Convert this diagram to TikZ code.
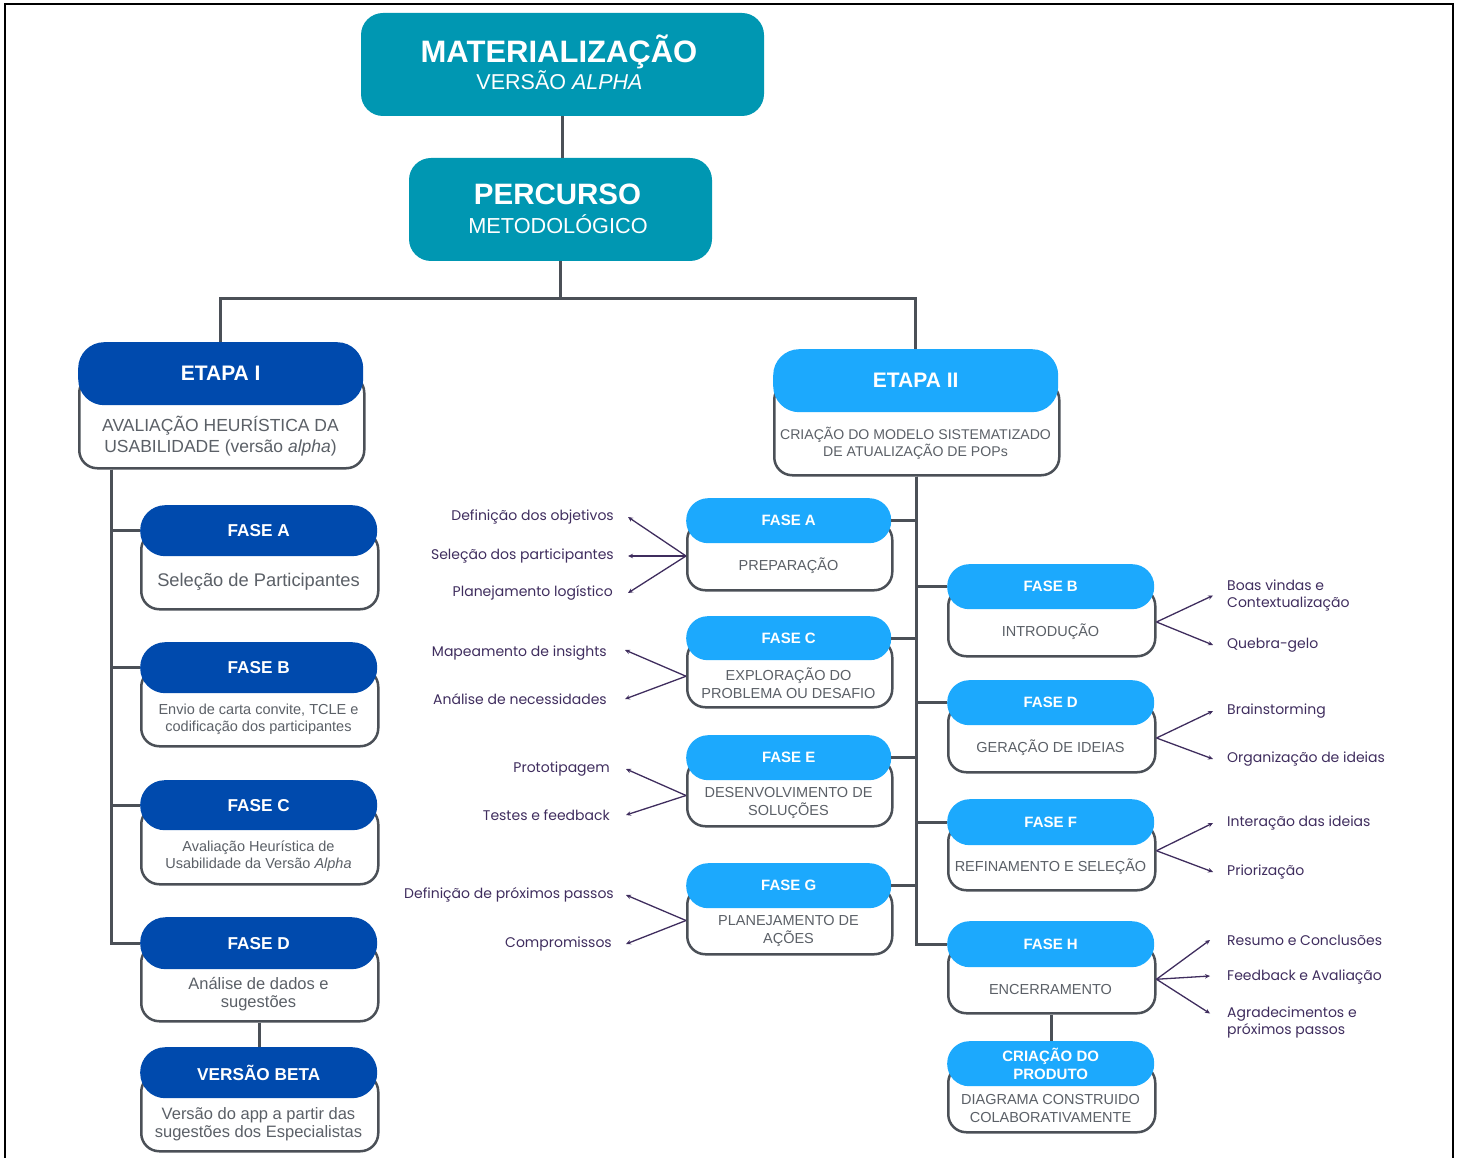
\documentclass[tikz,border=0pt]{standalone}
\usepackage{fontspec}
\setmainfont{Liberation Sans}
\newfontfamily\lblfont{Poppins}
\usetikzlibrary{arrows.meta}
\definecolor{teal1}{HTML}{0097B2}
\definecolor{navy1}{HTML}{004AAD}
\definecolor{sky1}{HTML}{1CA9FD}
\definecolor{lineg}{HTML}{4B5057}
\definecolor{txtg}{HTML}{5B6067}
\definecolor{purp}{HTML}{3F2D5E}

\def\hdfont{\fontsize{17}{20}\selectfont\bfseries}
\def\bdfont{\fontsize{14.5}{17.5}\selectfont}

\tikzset{
 bodybox/.style={draw=lineg, line width=2.5pt, fill=white, rounded corners=18pt, inner sep=0pt},
 hdrbox/.style={inner sep=0pt, text=white, font=\hdfont, align=center},
 bodytext/.style={text=txtg, font=\bdfont, align=center, inner sep=0pt},
 conn/.style={draw=lineg, line width=3pt},
 lbl/.style={text=purp, font=\lblfont\fontsize{14}{17}\selectfont, inner sep=0pt, align=left},
 arr/.style={draw=purp, line width=1.3pt, -{Stealth[length=5pt,width=4.5pt]}},
}

% #1 name, #2 x1, #3 x2, #4 header top, #5 header bottom, #6 bottom, #7 colour, #8 header text, #9 body text
\newcommand\phasebox[9]{%
 \pgfmathsetmacro\pbw{#3-#2}%
 \pgfmathsetmacro\pbhh{#5-#4}%
 \pgfmathsetmacro\pbbh{#6-(#4+#5)/2}%
 \pgfmathsetmacro\pbr{min(\pbhh/2-0.5,26)}%
 \pgfmathsetmacro\pbyc{(#4+#5)/2}%
 \pgfmathsetmacro\pbxm{(#2+#3)/2}%
 \pgfmathsetmacro\pbyt{(#5+#6)/2}%
 \node[bodybox, minimum width=\pbw pt, minimum height=\pbbh pt, anchor=north west] (#1) at (#2,\pbyc) {};
 \node[hdrbox, fill=#7, minimum width=\pbw pt, minimum height=\pbhh pt, rounded corners=\pbr pt, anchor=north west] (#1h) at (#2,#4) {#8};
 \node[bodytext] (#1t) at (\pbxm,\pbyt) {#9};
}

\begin{document}
\begin{tikzpicture}[x=1pt,y=-1pt]
\useasboundingbox (0,0) rectangle (1460,1158);
\draw[line width=2.5pt, black] (5,1162) -- (5,4) -- (1453,4) -- (1453,1162);

% top boxes
\node[fill=teal1, rounded corners=22pt, minimum width=403pt, minimum height=103pt, inner sep=0pt] (mat) at (562.5,64.5) {};
\node[text=white, font=\fontsize{31}{31}\selectfont\bfseries, anchor=base, inner sep=0pt] (matT) at (559,62.5) {MATERIALIZAÇÃO};
\node[text=white, font=\fontsize{21.5}{21.5}\selectfont, anchor=base, inner sep=0pt] (matS) at (559.5,90) {VERSÃO \textit{ALPHA}};

\node[fill=teal1, rounded corners=22pt, minimum width=303pt, minimum height=103pt, inner sep=0pt] (perc) at (560.5,209.5) {};
\node[text=white, font=\fontsize{29.5}{29.5}\selectfont\bfseries, anchor=base, inner sep=0pt] (percT) at (557.5,204.5) {PERCURSO};
\node[text=white, font=\fontsize{21.7}{21.7}\selectfont, anchor=base, inner sep=0pt] (percS) at (558,233.5) {METODOLÓGICO};

% ETAPA boxes
\def\hdfont{\fontsize{21}{24}\selectfont\bfseries}
\def\bdfont{\fontsize{17.5}{21}\selectfont}
\phasebox{e1}{78}{363}{342}{405}{467}{navy1}{ETAPA I}{AVALIAÇÃO HEURÍSTICA DA\\USABILIDADE (versão \textit{alpha})}
\def\bdfont{\fontsize{14.1}{17}\selectfont}
\phasebox{e2}{773}{1058}{349}{412}{474}{sky1}{ETAPA II}{CRIAÇÃO DO MODELO SISTEMATIZADO\\DE ATUALIZAÇÃO DE POPs}

% left column
\def\hdfont{\fontsize{17.2}{20}\selectfont\bfseries}
\def\bdfont{\fontsize{18.3}{21}\selectfont}
\phasebox{lA}{140}{377}{505}{556}{608}{navy1}{FASE A}{Seleção de Participantes}
\def\bdfont{\fontsize{14.5}{17}\selectfont}
\phasebox{lB}{140}{377}{642}{693}{745}{navy1}{FASE B}{Envio de carta convite, TCLE e\\codificação dos participantes}
\phasebox{lC}{140}{377}{780}{830}{883}{navy1}{FASE C}{Avaliação Heurística de\\Usabilidade da Versão \textit{Alpha}}
\def\bdfont{\fontsize{16.5}{18}\selectfont}
\phasebox{lD}{140}{377}{917}{969}{1020}{navy1}{FASE D}{Análise de dados e\\sugestões}
\phasebox{lV}{140}{377}{1047}{1098}{1150}{navy1}{VERSÃO BETA}{Versão do app a partir das\\sugestões dos Especialistas}

% middle column
\def\hdfont{\fontsize{15}{18}\selectfont\bfseries}
\def\bdfont{\fontsize{14.5}{18}\selectfont}
\phasebox{mA}{686}{891}{498}{543}{589}{sky1}{FASE A}{PREPARAÇÃO}
\phasebox{mC}{686}{891}{616}{660}{706}{sky1}{FASE C}{EXPLORAÇÃO DO\\PROBLEMA OU DESAFIO}
\phasebox{mE}{686}{891}{735}{780}{825}{sky1}{FASE E}{DESENVOLVIMENTO DE\\SOLUÇÕES}
\phasebox{mG}{686}{891}{863}{908}{953}{sky1}{FASE G}{PLANEJAMENTO DE\\AÇÕES}

% right column
\phasebox{rB}{947}{1154}{564}{609}{655}{sky1}{FASE B}{INTRODUÇÃO}
\phasebox{rD}{947}{1154}{680}{725}{771}{sky1}{FASE D}{GERAÇÃO DE IDEIAS}
\phasebox{rF}{947}{1154}{799}{845}{889}{sky1}{FASE F}{REFINAMENTO E SELEÇÃO}
\phasebox{rH}{947}{1154}{921}{967}{1012}{sky1}{FASE H}{ENCERRAMENTO}
\phasebox{rP}{947}{1154}{1041}{1086}{1131}{sky1}{CRIAÇÃO DO\\PRODUTO}{DIAGRAMA CONSTRUIDO\\COLABORATIVAMENTE}

% tree connectors
\draw[conn] (mat.south) -- (mat.south |- perc.north);
\draw[conn] (perc.south) -- ++(0,37) coordinate (hub);
\draw[conn] (hub) -| (e1h.north);
\draw[conn] (hub) -| (e2h.north);

\draw[conn] ([xshift=33pt]e1.south west) |- (lAh.west);
\draw[conn] ([xshift=33pt]e1.south west) |- (lBh.west);
\draw[conn] ([xshift=33pt]e1.south west) |- (lCh.west);
\draw[conn] ([xshift=33pt]e1.south west) |- (lDh.west);
\draw[conn] (lD.south) -- (lD.south |- lVh.north);

\draw[conn] (e2.south) |- (mAh.east);
\draw[conn] (e2.south) |- (mCh.east);
\draw[conn] (e2.south) |- (mEh.east);
\draw[conn] (e2.south) |- (mGh.east);
\draw[conn] (e2.south) |- (rBh.west);
\draw[conn] (e2.south) |- (rDh.west);
\draw[conn] (e2.south) |- (rFh.west);
\draw[conn] (e2.south) |- (rHh.west);
\draw[conn] (rH.south) -- (rH.south |- rPh.north);

% left labels
\node[lbl, anchor=east] (L1) at (614,517) {Definição dos objetivos};
\node[lbl, anchor=east] (L2) at (614,556) {Seleção dos participantes};
\node[lbl, anchor=east] (L3) at (613,593) {Planejamento logístico};
\node[lbl, anchor=east] (L4) at (607,653) {Mapeamento de insights};
\node[lbl, anchor=east] (L5) at (607,699) {Análise de necessidades};
\node[lbl, anchor=east] (L6) at (610,769) {Prototipagem};
\node[lbl, anchor=east] (L7) at (610,815) {Testes e feedback};
\node[lbl, anchor=east] (L8) at (614,895) {Definição de próximos passos};
\node[lbl, anchor=east] (L9) at (612,944) {Compromissos};

\draw[arr] (mA.west) -- ([xshift=14pt]L1.east);
\draw[arr] (mA.west) -- ([xshift=14pt]L2.east);
\draw[arr] (mA.west) -- ([xshift=15pt]L3.east);
\draw[arr] ([yshift=-3pt]mC.west) -- ([xshift=18pt,yshift=3pt]L4.east);
\draw[arr] ([yshift=-3pt]mC.west) -- ([xshift=18pt]L5.east);
\draw[arr] ([yshift=-3pt]mE.west) -- ([xshift=16pt]L6.east);
\draw[arr] ([yshift=-3pt]mE.west) -- ([xshift=16pt]L7.east);
\draw[arr] (mG.west) -- ([xshift=12pt]L8.east);
\draw[arr] (mG.west) -- ([xshift=14pt]L9.east);

% right labels
\node[lbl, anchor=west] (R1) at (1227,595.5) {Boas vindas e\\Contextualização};
\node[lbl, anchor=west] (R2) at (1227,645) {Quebra-gelo};
\node[lbl, anchor=west] (R3) at (1227,711) {Brainstorming};
\node[lbl, anchor=west] (R4) at (1227,759) {Organização de ideias};
\node[lbl, anchor=west] (R5) at (1227,823) {Interação das ideias};
\node[lbl, anchor=west] (R6) at (1227,872) {Priorização};
\node[lbl, anchor=west] (R7) at (1227,940) {Resumo e Conclusões};
\node[lbl, anchor=west] (R8) at (1227,977) {Feedback e Avaliação};
\node[lbl, anchor=west] (R9) at (1227,1022.5) {Agradecimentos e\\próximos passos};

\draw[arr] (rB.east) -- ([xshift=-14pt]R1.west);
\draw[arr] (rB.east) -- ([xshift=-14pt]R2.west);
\draw[arr] (rD.east) -- ([xshift=-14pt]R3.west);
\draw[arr] (rD.east) -- ([xshift=-14pt]R4.west);
\draw[arr] ([yshift=6pt]rF.east) -- ([xshift=-14pt]R5.west);
\draw[arr] ([yshift=6pt]rF.east) -- ([xshift=-14pt]R6.west);
\draw[arr] (rH.east) -- ([xshift=-17pt]R7.west);
\draw[arr] (rH.east) -- ([xshift=-17pt,yshift=1pt]R8.west);
\draw[arr] (rH.east) -- ([xshift=-17pt,yshift=9pt]R9.west);
\end{tikzpicture}
\end{document}
